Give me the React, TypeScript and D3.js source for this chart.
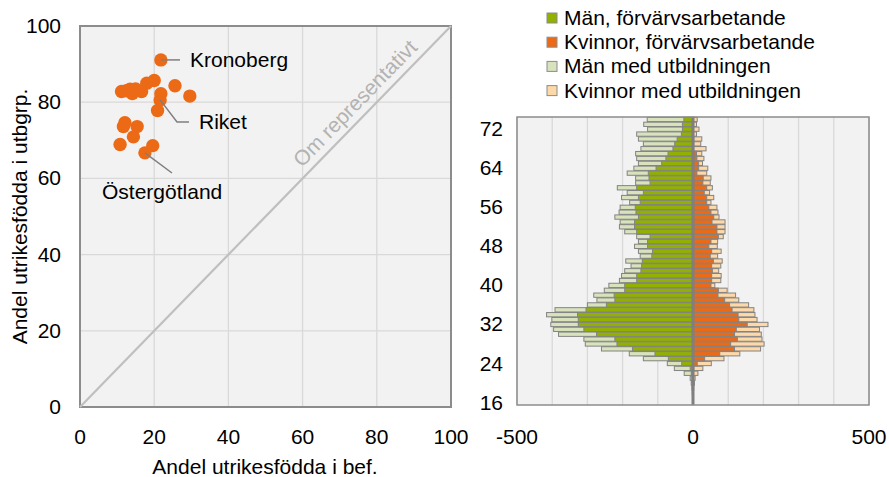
import * as d3 from "d3";

const W = 889;
const H = 477;
const FONT = "'Liberation Sans', Arial, sans-serif";

// Scatter: share foreign-born in population (x) vs. in education group (y)
const shareInPop = [21.8, 11.2, 12.5, 13.5, 14.1, 15.0, 16.6, 18.0, 20.0, 25.6, 29.6, 21.8, 21.6, 20.9, 12.1, 11.7, 15.4, 14.4, 10.8, 19.6, 17.5];
const shareInEdu = [91.1, 82.8, 83.0, 83.4, 82.3, 83.5, 82.8, 85.0, 85.7, 84.3, 81.6, 82.2, 80.6, 77.8, 74.6, 73.6, 73.6, 70.9, 68.9, 68.6, 66.7];
const scatterTicks = [0, 20, 40, 60, 80, 100];

// Pyramid: ages 16–74
const ages = d3.range(16, 75);
const menEmployed = [0, 0, 0, -1, -2, -3, -5, -8, -32, -70, -108, -172, -216, -222, -274, -310, -326, -326, -328, -304, -246, -222, -224, -194, -194, -160, -160, -148, -146, -144, -117, -115, -129, -129, -122, -160, -166, -166, -155, -162, -164, -150, -155, -141, -160, -122, -125, -127, -105, -89, -77, -71, -57, -52, -45, -33, -30, -30, -26];
const womenEmployed = [0, 0, 0, 0, 1, 1, 1, 2, 12, 33, 76, 118, 107, 126, 118, 123, 154, 130, 128, 111, 104, 90, 71, 72, 51, 53, 53, 55, 53, 58, 49, 53, 45, 51, 72, 68, 68, 54, 59, 51, 45, 39, 39, 32, 39, 28, 29, 11, 16, 16, 11, 10, 2, 2, 2, 1, 1, 1, 1];
const menEducated = [-1, -1, -2, -3, -5, -8, -25, -53, -73, -141, -181, -260, -306, -310, -382, -396, -404, -401, -416, -392, -300, -273, -282, -252, -239, -209, -203, -194, -176, -191, -150, -155, -166, -155, -160, -194, -209, -207, -222, -210, -207, -180, -203, -187, -215, -163, -163, -187, -168, -155, -160, -163, -148, -141, -155, -160, -129, -140, -130];
const womenEducated = [0, 0, 1, 2, 4, 6, 14, 28, 52, 88, 133, 192, 202, 196, 194, 189, 213, 182, 176, 173, 158, 130, 121, 97, 62, 79, 80, 73, 79, 83, 70, 80, 69, 70, 86, 91, 91, 91, 74, 71, 68, 51, 59, 47, 55, 49, 51, 39, 42, 27, 31, 25, 37, 22, 25, 10, 17, 10, 12];
const ageTicks = [16, 24, 32, 40, 48, 56, 64, 72];
const countTicks = [-500, 0, 500];
const countGrid = d3.range(-500, 501, 100);

const legendItems = [
  { label: "Män, förvärvsarbetande", color: "#92b000" },
  { label: "Kvinnor, förvärvsarbetande", color: "#ec6a16" },
  { label: "Män med utbildningen", color: "#d8e3bd" },
  { label: "Kvinnor med utbildningen", color: "#fdd8a9" },
];

const GRID = "#d9d9d9";
const BORDER = "#8c8c8c";
const BAR_STROKE = "#838383";

function Scatter() {
  const x = d3.scaleLinear().domain([0, 100]).range([80, 451]);
  const y = d3.scaleLinear().domain([0, 100]).range([407, 26]);
  const angle = (Math.atan2(y(0) - y(100), x(100) - x(0)) * 180) / Math.PI;

  return (
    <g fontFamily={FONT} fontSize={21}>
      <rect x={x(0)} y={y(100)} width={x(100) - x(0)} height={y(0) - y(100)} fill="#f2f2f2" />
      {scatterTicks.map((t) => (
        <g key={t}>
          <line x1={x(t)} x2={x(t)} y1={y(0)} y2={y(100)} stroke={GRID} strokeWidth={1.3} />
          <line x1={x(0)} x2={x(100)} y1={y(t)} y2={y(t)} stroke={GRID} strokeWidth={1.3} />
          <text x={x(t)} y={444} textAnchor="middle" fill="#000">{t}</text>
          <text x={61} y={y(t) + 7} textAnchor="end" fill="#000">{t}</text>
        </g>
      ))}
      <rect x={x(0)} y={y(100)} width={x(100) - x(0)} height={y(0) - y(100)} fill="none" stroke={BORDER} strokeWidth={2} />
      {/* diagonal: representative line */}
      <line x1={x(0)} y1={y(0)} x2={x(100)} y2={y(100)} stroke="#bfbfbf" strokeWidth={2.2} />
      <text
        transform={`translate(${x(75) + 2},${y(75) - 13}) rotate(${-angle})`}
        textAnchor="middle"
        fill="#b3b3b3"
        fontSize={21}
      >
        Om representativt
      </text>
      {shareInPop.map((v, i) => (
        <circle key={i} cx={x(v)} cy={y(shareInEdu[i])} r={6.7} fill="#ec6a16" />
      ))}
      {/* annotations */}
      <g stroke="#7f7f7f" strokeWidth={1.5} fill="none">
        <polyline points={`${x(shareInPop[0])},${y(shareInEdu[0])} 180,${y(shareInEdu[0])}`} />
        <polyline points={`${x(shareInPop[12])},${y(shareInEdu[12])} 177,122 189,122`} />
        <polyline points={`${x(shareInPop[20])},${y(shareInEdu[20])} 172,173`} />
      </g>
      <text x={190} y={67} fill="#000">Kronoberg</text>
      <text x={199} y={129} fill="#000">Riket</text>
      <text x={102} y={199} fill="#000">Östergötland</text>
      <text x={265} y={474} textAnchor="middle" fill="#000">Andel utrikesfödda i bef.</text>
      <text transform={`translate(27,${(y(0) + y(100)) / 2}) rotate(-90)`} textAnchor="middle" fill="#000">
        Andel utrikesfödda i utbgrp.
      </text>
    </g>
  );
}

function Pyramid() {
  const x = d3.scaleLinear().domain([-500, 500]).range([517, 869]);
  const y = d3.scaleBand<number>().domain(ages).range([405, 117]).paddingInner(0.12).paddingOuter(0.06);
  const bh = y.bandwidth();
  const bar = (v: number, a: number, fill: string, key: string) => (
    <rect
      key={key}
      x={Math.min(x(0), x(v))}
      y={y(a)!}
      width={Math.abs(x(v) - x(0))}
      height={bh}
      fill={fill}
      stroke={BAR_STROKE}
      strokeWidth={1}
    />
  );
  const top = 117;
  const bottom = 405;

  return (
    <g fontFamily={FONT} fontSize={21}>
      <rect x={x(-500)} y={top} width={x(500) - x(-500)} height={bottom - top} fill="#f2f2f2" />
      {countGrid.map((t) => (
        <line key={t} x1={x(t)} x2={x(t)} y1={top} y2={bottom} stroke={GRID} strokeWidth={1.3} />
      ))}
      {ages.map((a, i) => bar(menEducated[i], a, legendItems[2].color, `me${a}`))}
      {ages.map((a, i) => bar(menEmployed[i], a, legendItems[0].color, `mw${a}`))}
      {ages.map((a, i) => bar(womenEducated[i], a, legendItems[3].color, `we${a}`))}
      {ages.map((a, i) => bar(womenEmployed[i], a, legendItems[1].color, `ww${a}`))}
      <line x1={x(0)} x2={x(0)} y1={top} y2={bottom} stroke="#7f7f7f" strokeWidth={3} />
      <rect x={x(-500)} y={top} width={x(500) - x(-500)} height={bottom - top} fill="none" stroke={BORDER} strokeWidth={1.5} />
      {ageTicks.map((a) => (
        <text key={a} x={503} y={y(a)! + bh / 2 + 7} textAnchor="end" fill="#000">{a}</text>
      ))}
      {countTicks.map((t) => (
        <text key={t} x={x(t)} y={444} textAnchor="middle" fill="#000">{t}</text>
      ))}
      {legendItems.map((d, i) => (
        <g key={d.label} transform={`translate(547,${18 + i * 24.2})`}>
          <rect x={0} y={-5} width={10} height={10} fill={d.color} stroke="#8c8c8c" strokeWidth={1} />
          <text x={17} y={7} fill="#000">{d.label}</text>
        </g>
      ))}
    </g>
  );
}

export default function App() {
  return (
    <svg
      width={W}
      height={H}
      viewBox={`0 0 ${W} ${H}`}
      style={{ position: "absolute", left: 0, top: 0, display: "block", background: "#fff" }}
    >
      <Scatter />
      <Pyramid />
    </svg>
  );
}
